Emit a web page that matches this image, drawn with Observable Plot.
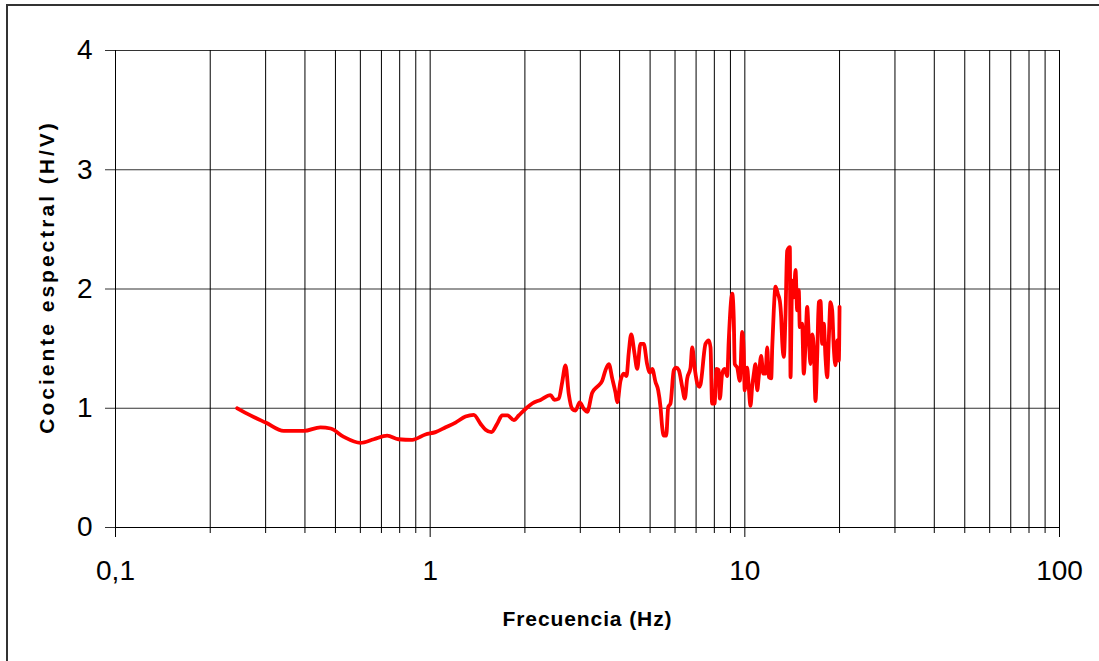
<!DOCTYPE html>
<html>
<head>
<meta charset="utf-8">
<script src="https://cdn.jsdelivr.net/npm/d3@7"></script>
<script src="https://cdn.jsdelivr.net/npm/@observablehq/plot@0.6"></script>
<style>
  html, body { margin: 0; padding: 0; background: #fff; overflow: hidden; width: 1099px; height: 661px; }
  #wrap { position: relative; width: 1099px; height: 661px; }
  #border { position: absolute; left: 6px; top: 4px; width: 1200px; height: 800px; border-left: 2px solid #333; border-top: 2px solid #333; pointer-events: none; }
  #chart { position: absolute; left: 0; top: 0; }
</style>
</head>
<body>
<div id="wrap"><div id="chart"></div><div id="border"></div></div>
<script>
// Frequency (Hz) and spectral ratio H/V
const freq = [
  0.2436, 0.2685, 0.30, 0.3425, 0.397, 0.448, 0.4825, 0.5315, 0.60, 0.662, 0.73, 0.793, 0.877, 0.966,
  1.04, 1.12, 1.204, 1.295, 1.376, 1.445, 1.50, 1.566, 1.633, 1.694, 1.76, 1.845, 1.913, 2.02, 2.11,
  2.242, 2.412, 2.484, 2.563, 2.628, 2.692, 2.757, 2.827, 2.896, 2.988, 3.077, 3.155, 3.273, 3.395,
  3.522, 3.608, 3.696, 3.789, 3.882, 3.930, 4.026, 4.124, 4.207, 4.278, 4.354, 4.460, 4.549, 4.658,
  4.772, 4.892, 4.989, 5.077, 5.201, 5.305, 5.395, 5.462, 5.527, 5.625, 5.708, 5.805, 5.946, 6.052,
  6.168, 6.323, 6.445, 6.559, 6.720, 6.804, 6.934, 7.057, 7.177, 7.23, 7.50, 7.68, 7.78, 7.87, 8.01,
  8.13, 8.26, 8.33, 8.47, 8.62, 8.79, 8.89, 9.12, 9.22, 9.29, 9.46, 9.64, 9.81, 9.92, 9.99,
  10.17, 10.29, 10.42, 10.55, 10.68, 10.81, 10.95, 11.07, 11.27, 11.44, 11.63, 11.78, 11.92, 12.13,
  12.22, 12.36, 12.52, 12.73, 12.92, 13.05, 13.14, 13.30, 13.47, 13.63, 13.90, 13.97, 14.14, 14.31,
  14.49, 14.67, 14.84, 14.95, 15.21, 15.39, 15.59, 15.78, 15.97, 16.17, 16.37, 16.56, 16.77, 16.98,
  17.18, 17.40, 17.61, 17.82, 18.04, 18.27, 18.48, 18.72, 18.95, 19.17, 19.41, 19.66, 19.89, 20.0
];
const ratio = [
  1.00, 0.94, 0.88, 0.81, 0.81, 0.84, 0.83, 0.76, 0.71, 0.74, 0.77, 0.74, 0.735, 0.78,
  0.80, 0.84, 0.88, 0.93, 0.945, 0.87, 0.82, 0.80, 0.87, 0.94, 0.94, 0.90, 0.94, 1.00, 1.04,
  1.07, 1.11, 1.07, 1.08, 1.22, 1.36, 1.12, 0.995, 0.98, 1.05, 0.995, 0.97, 1.13, 1.18,
  1.23, 1.32, 1.37, 1.25, 1.13, 1.05, 1.23, 1.29, 1.27, 1.47, 1.62, 1.46, 1.33, 1.54,
  1.54, 1.37, 1.30, 1.33, 1.22, 1.15, 1.01, 0.84, 0.77, 0.77, 1.01, 1.04, 1.32, 1.34,
  1.32, 1.18, 1.08, 1.25, 1.34, 1.51, 1.33, 1.21, 1.18, 1.20, 1.54, 1.57, 1.51, 1.04, 1.04,
  1.33, 1.32, 1.08, 1.29, 1.33, 1.27, 1.57, 1.96, 1.76, 1.37, 1.34, 1.23, 1.64, 1.48, 1.15,
  1.34, 1.18, 1.02, 1.18, 1.29, 1.37, 1.15, 1.26, 1.44, 1.29, 1.29, 1.51, 1.26, 1.25,
  1.51, 1.82, 2.02, 1.96, 1.90, 1.76, 1.57, 1.43, 1.79, 2.32, 2.35, 1.26, 2.07, 1.93,
  2.16, 1.82, 1.99, 1.68, 1.71, 1.29, 1.54, 1.85, 1.60, 1.37, 1.62, 1.51, 1.06, 1.43,
  1.89, 1.90, 1.54, 1.71, 1.43, 1.26, 1.57, 1.89, 1.82, 1.51, 1.36, 1.57, 1.40, 1.85
];
const xLabelTicks = [0.1, 1, 10, 100];
const xGridTicks = [0.1,0.2,0.3,0.4,0.5,0.6,0.7,0.8,0.9,1,2,3,4,5,6,7,8,9,10,20,30,40,50,60,70,80,90,100];
const yTicks = [0, 1, 2, 3, 4];
const xTitle = "Frecuencia (Hz)";
const yTitle = "Cociente espectral (H/V)";

const data = freq.map((f, i) => ({f, r: ratio[i]}));
const isMajor = v => xLabelTicks.includes(v);
const fmt = v => String(v).replace(".", ",");

const chart = Plot.plot({
  width: 1099,
  height: 661,
  marginLeft: 115,
  marginRight: 40,
  marginTop: 50,
  marginBottom: 134,
  style: {background: "transparent", fontFamily: "'Liberation Sans', Arial, sans-serif"},
  x: {type: "log", domain: [0.1, 100]},
  y: {domain: [0, 4]},
  marks: [
    Plot.ruleY(yTicks.filter(v => v > 0), {x1: 0.1, x2: 100, stroke: "#333", strokeWidth: 1.2}),
    Plot.ruleX(xGridTicks, {y1: 0, y2: 4, stroke: "#000", strokeWidth: 1}),
    Plot.ruleY([0], {x1: 0.1, x2: 100, stroke: "#000", strokeWidth: 1}),
    Plot.axisX(xGridTicks.filter(v => !isMajor(v)), {tickSize: 6, text: null, label: null, stroke: "#000"}),
    Plot.axisX(xLabelTicks, {tickSize: 10, text: null, label: null, stroke: "#000"}),
    Plot.axisY(yTicks, {tickSize: 10, text: null, label: null, stroke: "#333"}),
    Plot.line(data, {x: "f", y: "r", stroke: "#ff0000", strokeWidth: 3.8, strokeLinejoin: "round", strokeLinecap: "round", curve: "monotone-x"}),
    Plot.axisX(xLabelTicks, {tickSize: 0, tickPadding: 33, fontSize: 28, tickFormat: fmt, fill: "#000", label: null}),
    Plot.axisY(yTicks, {tickSize: 0, tickPadding: 23, fontSize: 28, tickFormat: fmt, fill: "#000", label: null}),
    Plot.text([xTitle], {frameAnchor: "bottom", dy: 98, fontSize: 21, fontWeight: "bold", fill: "#000", text: d => d, className: "xtitle"}),
    Plot.text([yTitle], {frameAnchor: "left", dx: -68, dy: -12, rotate: -90, textAnchor: "middle", fontSize: 21, fontWeight: "bold", fill: "#000", text: d => d, className: "ytitle"})
  ]
});
d3.select(chart).selectAll(".xtitle text").style("letter-spacing", "0.9px");
d3.select(chart).selectAll(".ytitle text").style("letter-spacing", "3px");
document.getElementById("chart").appendChild(chart);
</script>
</body>
</html>
